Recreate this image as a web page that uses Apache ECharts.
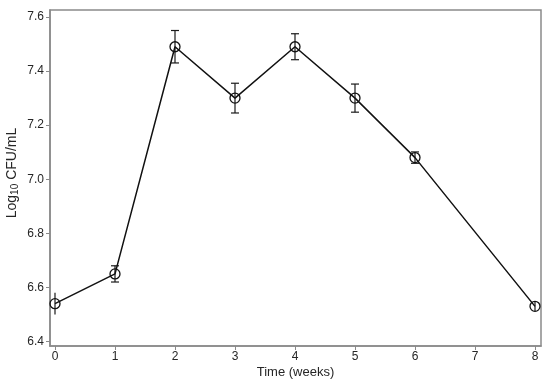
<!DOCTYPE html>
<html><head><meta charset="utf-8">
<script src="https://cdn.jsdelivr.net/npm/echarts@6/dist/echarts.min.js"></script>
<style>html,body{margin:0;padding:0;background:#fff}#c{width:550px;height:387px}</style>
</head><body><div id="c"></div>
<script>
const weeks = [0, 1, 2, 3, 4, 5, 6, 8];
const meanLog = [6.54, 6.65, 7.49, 7.30, 7.49, 7.30, 7.08, 6.53];
const errLog = [0.04, 0.03, 0.06, 0.055, 0.048, 0.052, 0.021, 0.017];
const xTicks = [0, 1, 2, 3, 4, 5, 6, 7, 8];
const yTicks = [6.4, 6.6, 6.8, 7.0, 7.2, 7.4, 7.6];

const chart = echarts.init(document.getElementById('c'));
const axisCol = '#8a8a8a';
const txtCol = '#262626';
const font = 'Liberation Sans, Arial, sans-serif';
const pts = weeks.map((w, i) => [w, meanLog[i]]);
const errData = weeks.map((w, i) => [w, meanLog[i] - errLog[i], meanLog[i] + errLog[i], i]);
chart.setOption({
  animation: false,
  grid: { left: 50, right: 9, top: 10, bottom: 41, outerBoundsMode: 'none', containLabel: false,
    show: true, borderColor: axisCol, borderWidth: 1.5, backgroundColor: '#fff' },
  xAxis: {
    type: 'value', min: -0.0833, max: 8.1,
    name: 'Time (weeks)', nameLocation: 'middle', nameGap: 20, nameMoveOverlap: false,
    nameTextStyle: { fontFamily: font, fontSize: 13, color: txtCol },
    axisLine: { show: true, onZero: false, lineStyle: { color: axisCol, width: 1.5 } },
    axisTick: { show: true, length: 4, lineStyle: { color: axisCol }, customValues: xTicks },
    axisLabel: { customValues: xTicks, fontFamily: font, fontSize: 12, color: txtCol, margin: 5 },
    splitLine: { show: false }
  },
  yAxis: {
    type: 'value', min: 6.3834, max: 7.6258,
    name: '{a|Log}{s|10}{a| CFU/mL}', nameLocation: 'middle', nameGap: 30, nameRotate: 90,
    nameMoveOverlap: false,
    nameTextStyle: { padding: [0, 0, 0, 10], rich: {
      a: { fontFamily: font, fontSize: 14, color: txtCol },
      s: { fontFamily: font, fontSize: 10, color: txtCol, verticalAlign: 'bottom', padding: [6, 0, 0, 0] }
    } },
    axisLine: { show: true, onZero: false, lineStyle: { color: axisCol, width: 1.5 } },
    axisTick: { show: true, length: 4, lineStyle: { color: axisCol }, customValues: yTicks },
    axisLabel: { customValues: yTicks, fontFamily: font, fontSize: 12, color: txtCol, margin: 6,
      formatter: v => Number(v).toFixed(1) },
    splitLine: { show: false }
  },
  series: [
    {
      type: 'custom', z: 3,
      data: errData,
      renderItem: function (params, api) {
        const x = api.value(0), lo = api.value(1), hi = api.value(2), idx = api.value(3);
        const p1 = api.coord([x, lo]), p2 = api.coord([x, hi]);
        const st = { stroke: '#1a1a1a', lineWidth: 1.2 };
        const children = [{ type: 'line', shape: { x1: p1[0], y1: p1[1], x2: p2[0], y2: p2[1] }, style: st }];
        if (idx > 0 && idx < weeks.length - 1) {
          const hw = 4;
          children.push({ type: 'line', shape: { x1: p1[0] - hw, y1: p1[1], x2: p1[0] + hw, y2: p1[1] }, style: st });
          children.push({ type: 'line', shape: { x1: p2[0] - hw, y1: p2[1], x2: p2[0] + hw, y2: p2[1] }, style: st });
        }
        return { type: 'group', children: children };
      }
    },
    {
      type: 'line', z: 4, data: pts,
      symbol: 'circle', symbolSize: 10,
      lineStyle: { color: '#111', width: 1.5 },
      itemStyle: { color: 'rgba(255,255,255,0)', borderColor: '#111', borderWidth: 1.3 }
    }
  ]
});
</script></body></html>
